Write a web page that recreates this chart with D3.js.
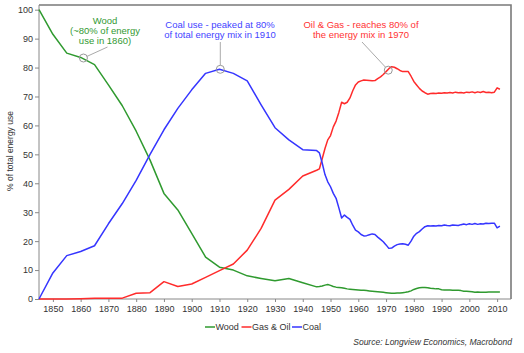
<!DOCTYPE html>
<html>
<head>
<meta charset="utf-8">
<script src="https://cdn.jsdelivr.net/npm/d3@7"></script>
<style>
  body { margin: 0; background: #fff; }
  svg { display: block; font-family: "Liberation Sans", Arial, sans-serif; }
</style>
</head>
<body>
<div id="chart"></div>
<script>
// five-yearly points up to 1940, yearly from 1945
const years = [1845, 1850, 1855, 1860, 1865, 1870, 1875, 1880, 1885, 1890, 1895, 1900, 1905, 1910, 1915, 1920, 1925, 1930, 1935, 1940,
  1945, 1946, 1947, 1948, 1949, 1950, 1951, 1952, 1953, 1954, 1955, 1956, 1957, 1958, 1959, 1960, 1961, 1962, 1963, 1964,
  1965, 1966, 1967, 1968, 1969, 1970, 1971, 1972, 1973, 1974, 1975, 1976, 1977, 1978, 1979, 1980, 1981, 1982, 1983, 1984,
  1985, 1986, 1987, 1988, 1989, 1990, 1991, 1992, 1993, 1994, 1995, 1996, 1997, 1998, 1999, 2000, 2001, 2002, 2003, 2004,
  2005, 2006, 2007, 2008, 2009, 2010, 2011];

const wood = [100, 91.5, 85, 83.5, 81, 74, 66.8, 58, 48, 36.5, 30.8, 22.7, 14.5, 11, 10, 8, 7.1, 6.3, 7.1, 5.6,
  4.2, 4.3, 4.5, 4.8, 5.0, 4.7, 4.3, 4.1, 4.0, 3.9, 3.7, 3.5, 3.4, 3.3, 3.2, 3.1, 3.0, 3.0, 2.9, 2.8,
  2.7, 2.6, 2.5, 2.4, 2.3, 2.2, 2.1, 2.0, 2.0, 2.1, 2.1, 2.2, 2.3, 2.5, 2.8, 3.3, 3.6, 3.9, 4.0, 4.0,
  3.9, 3.7, 3.6, 3.5, 3.5, 3.2, 3.1, 3.1, 3.1, 3.0, 3.0, 3.0, 2.9, 2.7, 2.7, 2.6, 2.5, 2.3, 2.4, 2.3,
  2.3, 2.3, 2.4, 2.4, 2.4, 2.4, 2.4];

const gasOil = [0, 0, 0, 0.1, 0.3, 0.3, 0.3, 2, 2.2, 6, 4.3, 5.2, 7.5, 9.8, 12.1, 16.9, 24.4, 34.2, 37.9, 42.5,
  44.5, 45, 48.5, 52, 55, 56.5, 59.5, 61.5, 64.5, 68, 67.5, 68, 69.5, 72, 74, 75, 75.4, 75.7, 75.6, 75.5,
  75.4, 75.5, 76.2, 76.8, 77.6, 78.6, 79.6, 80.3, 80.1, 79.6, 79, 78.6, 78.6, 78.6, 77, 75.2, 74, 72.8, 71.9, 71.3,
  70.8, 71, 71.1, 71, 71.2, 71.1, 71.3, 71.2, 71.4, 71.2, 71.5, 71.3, 71.4, 71.2, 71.5, 71.4, 71.6, 71.3, 71.6, 71.4,
  71.7, 71.4, 71.5, 71.3, 71.5, 73, 72.5];

const coal = [0, 9, 15, 16.4, 18.4, 26, 33, 41, 50, 58.5, 65.9, 72.3, 78, 79.4, 78, 75.4, 67.1, 59.2, 55, 51.6,
  51.3, 50.5, 47, 43, 40.5, 38.8, 36.5, 34.8, 31.5, 28, 29, 28.2, 27.5, 25.5, 23.8, 23.2, 22.3, 21.8, 21.9, 22.2,
  22.5, 22.3, 21.4, 20.6, 19.8, 18.7, 17.5, 17.6, 18.3, 18.8, 19, 19.1, 18.9, 18.6, 20, 21.7, 22.7, 23.3, 24.2, 25,
  25.3, 25.2, 25.3, 25.2, 25.4, 25.3, 25.6, 25.4, 25.3, 25.6, 25.5, 25.4, 25.7, 25.9, 25.7, 26, 25.8, 26.1, 25.8, 26,
  25.9, 26.2, 26.1, 26.2, 26.2, 24.6, 25.2];

const seriesNames = ["Wood", "Gas & Oil", "Coal"];
const seriesColors = ["#2f9a2f", "#ff2b2b", "#3535ff"];
const yTicks = [0, 10, 20, 30, 40, 50, 60, 70, 80, 90, 100];
const xTicks = [1850, 1860, 1870, 1880, 1890, 1900, 1910, 1920, 1930, 1940, 1950, 1960, 1970, 1980, 1990, 2000, 2010];

const W = 524, H = 353;
const svg = d3.select("#chart").append("svg").attr("width", W).attr("height", H);

const x = d3.scaleLinear().domain([1845, 2015]).range([39, 511]);
const y = d3.scaleLinear().domain([0, 100]).range([299, 9.7]);

// frame (top / right)
svg.append("path")
  .attr("d", `M39,${y(101.6)}H511V299`)
  .attr("fill", "none").attr("stroke", "#7a7a7a").attr("stroke-width", 1.6);

// y axis
const yAxis = svg.append("g").attr("transform", "translate(39,0)")
  .call(d3.axisLeft(y).tickValues(yTicks).tickSize(4).tickPadding(2));
yAxis.select(".domain").attr("stroke", "#888").attr("d", `M0,299V${y(101.6)}`);
yAxis.selectAll(".tick line").attr("stroke", "#888");
yAxis.selectAll("text").attr("fill", "#333").style("font-size", "9px");

// x axis
const xAxis = svg.append("g").attr("transform", "translate(0,299)")
  .call(d3.axisBottom(x).tickValues(xTicks).tickFormat(d3.format("d")).tickSize(3).tickPadding(4));
xAxis.select(".domain").attr("stroke", "#888").attr("d", "M39,0H511");
xAxis.selectAll(".tick line").attr("stroke", "#888");
xAxis.selectAll("text").attr("fill", "#333").style("font-size", "9px");

svg.append("text")
  .attr("transform", "translate(13,151) rotate(-90)")
  .attr("text-anchor", "middle")
  .attr("fill", "#333")
  .style("font-size", "8.5px")
  .text("% of total energy use");

const line = d3.line().x((d, i) => x(years[i])).y(d => y(d));
[wood, gasOil, coal].forEach((s, k) => {
  svg.append("path")
    .datum(s)
    .attr("d", line)
    .attr("fill", "none")
    .attr("stroke", seriesColors[k])
    .attr("stroke-width", 1.5)
    .attr("stroke-linejoin", "round");
});

// annotations
function note(lines, cx, cy, color) {
  const t = svg.append("text").attr("text-anchor", "middle").attr("fill", color).style("font-size", "9.5px");
  lines.forEach((l, i) => t.append("tspan").attr("x", cx).attr("y", cy + i * 10.3).text(l));
}
function marker(yr, v, x2, y2) {
  const cx = x(yr), cy = y(v);
  const a = Math.atan2(y2 - cy, x2 - cx);
  svg.append("line")
    .attr("x1", cx + 4 * Math.cos(a)).attr("y1", cy + 4 * Math.sin(a))
    .attr("x2", x2).attr("y2", y2)
    .attr("stroke", "#aaa").attr("stroke-width", 1);
  svg.append("circle").attr("cx", cx).attr("cy", cy).attr("r", 4)
    .attr("fill", "none").attr("stroke", "#999").attr("stroke-width", 1);
}

note(["Wood", "(~80% of energy", "use in 1860)"], 105, 23.5, "#339933");
marker(1861, 83.3, 107.5, 47);

note(["Coal use - peaked at 80%", "of total energy mix in 1910"], 220, 27.5, "#4444ff");
marker(1910.3, 79.4, x(1910.3), 42);

note(["Oil & Gas - reaches 80% of", "the energy mix in 1970"], 361, 27.5, "#ff3333");
marker(1970.8, 79.1, 362, 42);

// legend
const legendX = [205, 241.5, 292];
seriesNames.forEach((n, k) => {
  const g = svg.append("g").attr("transform", `translate(${legendX[k]},327)`);
  g.append("line").attr("x1", 0).attr("x2", 10).attr("y1", 0).attr("y2", 0)
    .attr("stroke", seriesColors[k]).attr("stroke-width", 1.5);
  g.append("text").attr("x", 10.5).attr("y", 3.2).attr("fill", "#333")
    .style("font-size", "9px").text(n);
});

svg.append("text")
  .attr("x", 512).attr("y", 345)
  .attr("text-anchor", "end")
  .attr("fill", "#333")
  .style("font-size", "8.5px")
  .style("font-style", "italic")
  .text("Source: Longview Economics, Macrobond");
</script>
</body>
</html>
